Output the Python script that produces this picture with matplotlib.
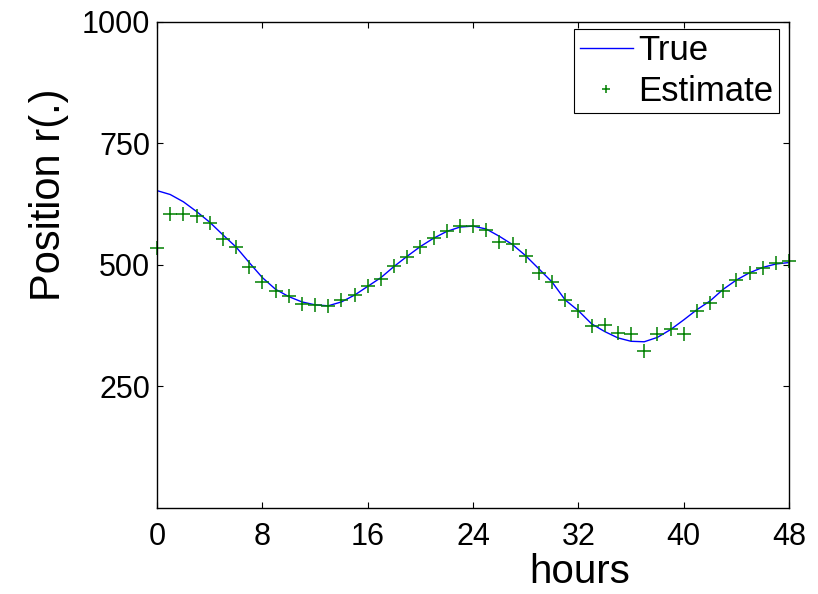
import numpy as np
import matplotlib
matplotlib.use('Agg')
import matplotlib.pyplot as plt

plt.rcParams['font.family'] = ['Liberation Sans', 'DejaVu Sans']

hours = list(range(0, 49))     # hourly samples, 0..48

# true position
true_pos = [653, 645, 630, 610, 588, 562, 537, 505, 474, 450,
            435, 424, 418, 416, 424, 438, 456, 474, 497, 518,
            538, 555, 569, 578, 580, 574, 559, 542, 519, 492,
            465, 428, 406, 379, 363, 350, 343, 342, 351, 367,
            387, 408, 426, 450, 469, 484, 495, 502, 505]

# estimates (green crosses)
est_pos = [535, 604, 605, 601, 586, 553, 538, 496, 464, 446,
           437, 420, 418, 416, 427, 438, 457, 472, 498, 517,
           538, 556, 569, 580, 580, 572, 548, 543, 519, 484,
           466, 427, 406, 375, 377, 360, 358, 322, 358, 369,
           358, 406, 422, 447, 469, 483, 494, 505, 509]

xticks = [0, 8, 16, 24, 32, 40, 48]
yticks = [250, 500, 750, 1000]

fig = plt.figure(figsize=(8.18, 5.94), dpi=100)
ax = fig.add_axes([0.192, 0.1448, 0.7726, 0.8182])

ax.plot(hours, true_pos, color='#0000ff', lw=1.0, label='True')
ax.plot(hours, est_pos, linestyle='none', marker='+', color='#008000',
        markersize=9.5, markeredgewidth=1.1, label='Estimate', clip_on=False)

ax.set_xlim(0, 48)
ax.set_ylim(0, 1000)
ax.set_xticks(xticks)
ax.set_yticks(yticks)
ax.tick_params(direction='in', length=4.5, width=0.8, top=True, right=True,
               labelsize=22)
ax.tick_params(axis='x', pad=10)
ax.tick_params(axis='y', pad=5)
for s in ax.spines.values():
    s.set_linewidth(1.0)
    s.set_zorder(3)

ax.set_xlabel('hours', fontsize=29)
ax.xaxis.set_label_coords(0.669, -0.092)
ax.set_ylabel('Position r(.)', fontsize=30)
ax.yaxis.set_label_coords(-0.14, 0.645)

leg = ax.legend(loc='upper right', bbox_to_anchor=(0.984, 0.9856),
                borderaxespad=0, fontsize=25, handlelength=1.55,
                handletextpad=0.15, labelspacing=0.22, borderpad=0.15,
                markerscale=0.55, fancybox=False, framealpha=1)
leg.get_frame().set_edgecolor('black')
leg.get_frame().set_linewidth(0.8)

fig.savefig('out.png', dpi=100)
